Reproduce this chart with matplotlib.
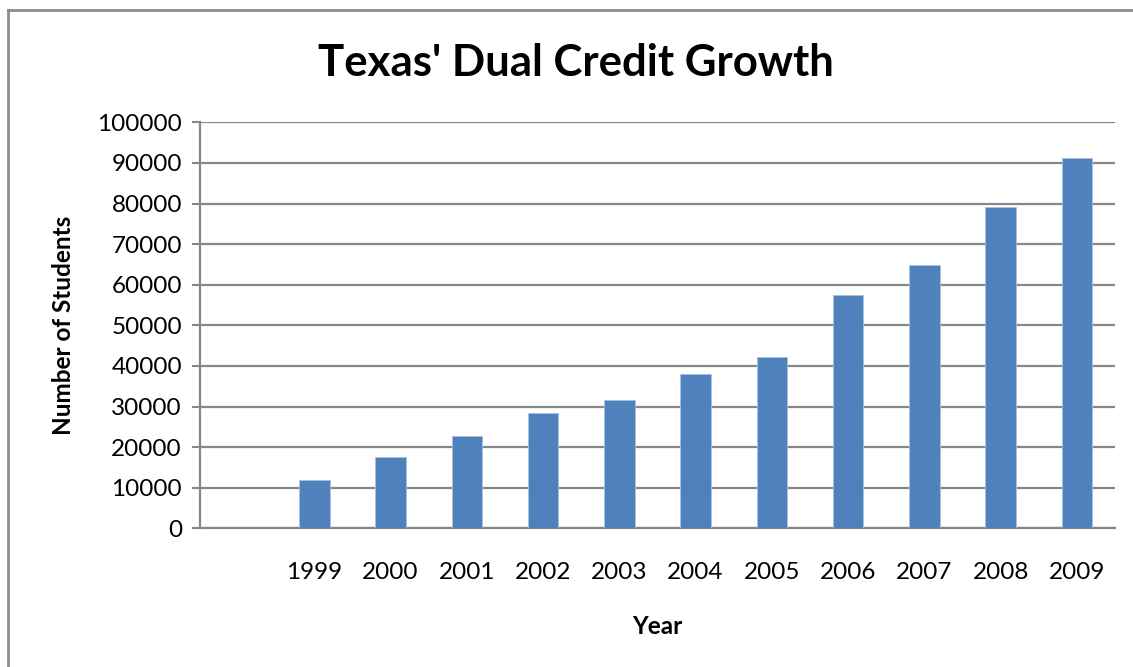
import matplotlib.pyplot as plt
from matplotlib.lines import Line2D

plt.rcParams['font.family'] = ['Lato', 'DejaVu Sans']

# first slot is an empty category, as in the original spreadsheet
years = ['', '1999', '2000', '2001', '2002', '2003', '2004', '2005', '2006', '2007', '2008', '2009']
students = [0, 11800, 17600, 22700, 28300, 31700, 38000, 42100, 57500, 64900, 79100, 91300]

fig = plt.figure(figsize=(11.33, 6.67), dpi=100)
ax = fig.add_axes([0.1765, 0.2079, 0.8076, 0.6087])

grid_color = '#878787'
x = range(len(years))
ax.bar(x, students, width=0.4, color='#4f81bd', edgecolor='#a9c1e0', linewidth=0.6, zorder=3)

ax.set_xlim(-0.5, len(years) - 0.5)
ax.set_ylim(0, 100000)
ax.set_yticks(range(0, 100001, 10000))
ax.set_xticks(list(x))
ax.set_xticklabels(years)

ax.grid(axis='y', color=grid_color, linewidth=1.6, zorder=0)
for side in ['top', 'right']:
    ax.spines[side].set_visible(False)
for side in ['left', 'bottom']:
    ax.spines[side].set_color(grid_color)
    ax.spines[side].set_linewidth(1.6)

ax.tick_params(axis='y', length=6, width=1.5, color=grid_color, labelsize=17.5, pad=7)
ax.tick_params(axis='x', length=0, labelsize=17.5, pad=24)

ax.set_xlabel('Year', fontsize=17.5, fontweight='bold', labelpad=23)
ax.set_ylabel('Number of Students', fontsize=17.5, fontweight='bold', labelpad=16)
fig.text(0.508, 0.905, "Texas' Dual Credit Growth", fontsize=31.5, fontweight='bold',
         ha='center', va='center')

# outer chart frame (left and top edges)
fig.add_artist(Line2D([0.0075, 0.0075], [0, 0.985], color='#8c8c8c', linewidth=2))
fig.add_artist(Line2D([0.0075, 1.0], [0.985, 0.985], color='#8c8c8c', linewidth=2))

fig.savefig('out.png', dpi=100)
